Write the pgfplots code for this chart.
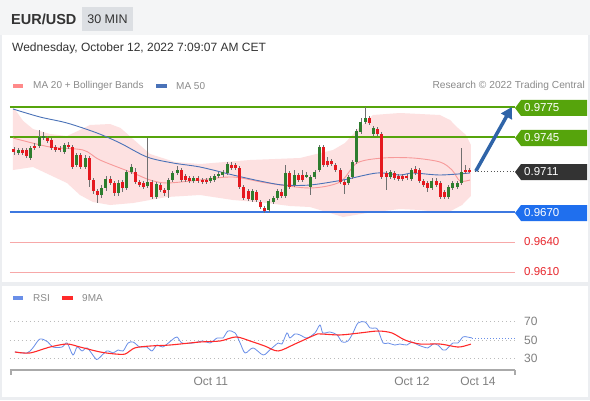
\documentclass[border=0pt]{standalone}
\usepackage{pgfplots}
\pgfplotsset{compat=1.18}
\usepackage{pgfplotstable}
\usepackage{fontspec}
\setmainfont{Liberation Sans}
\usetikzlibrary{arrows.meta}

\definecolor{headerbg}{HTML}{F4F5F6}
\definecolor{badge}{HTML}{DCDFE3}
\definecolor{framegray}{HTML}{ECEEF1}
\definecolor{lvlgreen}{HTML}{56A40C}
\definecolor{lvlblue}{HTML}{3D78E0}
\definecolor{lblblue}{HTML}{1F6FEE}
\definecolor{lbldark}{HTML}{333333}
\definecolor{dotgray}{HTML}{555555}
\definecolor{lvlred}{HTML}{F7A8A8}
\definecolor{txtred}{HTML}{E8272D}
\definecolor{bandpink}{HTML}{FDE1E1}
\definecolor{mared}{HTML}{F79A9A}
\definecolor{legpink}{HTML}{FF8A8A}
\definecolor{mablue}{HTML}{4A72B8}
\definecolor{cgreen}{HTML}{2E7D2E}
\definecolor{cred}{HTML}{E5191F}
\definecolor{wick}{HTML}{707070}
\definecolor{arrowblue}{HTML}{2F64A8}
\definecolor{rsiblue}{HTML}{6A8FE8}
\definecolor{rsired}{HTML}{FF2A2A}
\definecolor{legtxt}{HTML}{8A8A8A}
\definecolor{axisgray}{HTML}{AAAAAA}
\definecolor{gridgray}{HTML}{BBBBBB}

\pgfplotstableread{
i o h l c
0 0.9733 0.9735 0.9727 0.9730
1 0.9729 0.9734 0.9727 0.9732
2 0.9732 0.9734 0.9727 0.9729
3 0.9732 0.9734 0.9724 0.9726
4 0.9724 0.9736 0.9722 0.9734
5 0.9736 0.9739 0.9732 0.9734
6 0.9736 0.9752 0.9734 0.9745
7 0.9744 0.9750 0.9742 0.9746
8 0.9744 0.9746 0.9739 0.9741
9 0.9742 0.9744 0.9732 0.9734
10 0.9735 0.9737 0.9730 0.9732
11 0.9734 0.9736 0.9730 0.9732
12 0.9730 0.9739 0.9728 0.9737
13 0.9737 0.9740 0.9733 0.9735
14 0.9735 0.9737 0.9713 0.9715
15 0.9717 0.9729 0.9715 0.9727
16 0.9727 0.9729 0.9713 0.9715
17 0.9715 0.9727 0.9713 0.9724
18 0.9724 0.9726 0.9695 0.9702
19 0.9702 0.9704 0.9688 0.9691
20 0.9691 0.9693 0.9679 0.9687
21 0.9687 0.9697 0.9684 0.9694
22 0.9694 0.9706 0.9691 0.9703
23 0.9703 0.9706 0.9697 0.9699
24 0.9699 0.9701 0.9686 0.9689
25 0.9689 0.9702 0.9686 0.9699
26 0.9700 0.9702 0.9690 0.9694
27 0.9694 0.9712 0.9692 0.9710
28 0.9710 0.9718 0.9708 0.9715
29 0.9710 0.9714 0.9698 0.9700
30 0.9700 0.9702 0.9695 0.9697
31 0.9699 0.9701 0.9693 0.9695
32 0.9696 0.9744 0.9694 0.9700
33 0.9700 0.9702 0.9683 0.9685
34 0.9685 0.9700 0.9683 0.9698
35 0.9697 0.9699 0.9690 0.9692
36 0.9692 0.9694 0.9686 0.9689
37 0.9692 0.9704 0.9684 0.9702
38 0.9702 0.9711 0.9700 0.9709
39 0.9709 0.9716 0.9707 0.9712
40 0.9712 0.9714 0.9700 0.9702
41 0.9706 0.9708 0.9700 0.9702
42 0.9704 0.9706 0.9699 0.9701
43 0.9701 0.9706 0.9699 0.9704
44 0.9704 0.9706 0.9699 0.9701
45 0.9702 0.9704 0.9698 0.9700
46 0.9702 0.9704 0.9698 0.9700
47 0.9701 0.9706 0.9699 0.9704
48 0.9702 0.9708 0.9700 0.9706
49 0.9706 0.9710 0.9704 0.9708
50 0.9707 0.9712 0.9705 0.9710
51 0.9709 0.9720 0.9707 0.9718
52 0.9717 0.9720 0.9712 0.9714
53 0.9717 0.9719 0.9712 0.9714
54 0.9714 0.9716 0.9693 0.9695
55 0.9695 0.9697 0.9682 0.9684
56 0.9691 0.9693 0.9681 0.9683
57 0.9682 0.9693 0.9680 0.9691
58 0.9690 0.9692 0.9680 0.9682
59 0.9680 0.9682 0.9673 0.9675
60 0.9674 0.9676 0.9669 0.9671
61 0.9672 0.9683 0.9670 0.9681
62 0.9680 0.9686 0.9678 0.9684
63 0.9684 0.9693 0.9682 0.9691
64 0.9690 0.9693 0.9684 0.9686
65 0.9686 0.9717 0.9684 0.9709
66 0.9709 0.9711 0.9693 0.9695
67 0.9697 0.9712 0.9695 0.9707
68 0.9707 0.9709 0.9700 0.9702
69 0.9707 0.9712 0.9700 0.9702
70 0.9706 0.9710 0.9704 0.9707
71 0.9695 0.9707 0.9687 0.9705
72 0.9705 0.9712 0.9703 0.9710
73 0.9712 0.9737 0.9710 0.9735
74 0.9735 0.9737 0.9715 0.9717
75 0.9721 0.9725 0.9715 0.9717
76 0.9721 0.9723 0.9716 0.9718
77 0.9717 0.9719 0.9710 0.9712
78 0.9712 0.9714 0.9698 0.9700
79 0.9700 0.9702 0.9688 0.9697
80 0.9699 0.9707 0.9697 0.9705
81 0.9705 0.9722 0.9703 0.9720
82 0.9720 0.9753 0.9718 0.9751
83 0.9750 0.9764 0.9748 0.9760
84 0.9760 0.9775 0.9758 0.9764
85 0.9764 0.9766 0.9757 0.9759
86 0.9748 0.9756 0.9746 0.9754
87 0.9753 0.9755 0.9746 0.9748
88 0.9748 0.9750 0.9703 0.9705
89 0.9709 0.9711 0.9692 0.9705
90 0.9705 0.9712 0.9703 0.9710
91 0.9709 0.9711 0.9702 0.9704
92 0.9706 0.9708 0.9701 0.9703
93 0.9706 0.9708 0.9701 0.9703
94 0.9706 0.9708 0.9702 0.9704
95 0.9703 0.9714 0.9701 0.9712
96 0.9713 0.9716 0.9707 0.9709
97 0.9712 0.9714 0.9699 0.9701
98 0.9701 0.9703 0.9695 0.9697
99 0.9699 0.9701 0.9690 0.9694
100 0.9694 0.9704 0.9692 0.9701
101 0.9701 0.9704 0.9695 0.9697
102 0.9699 0.9701 0.9683 0.9685
103 0.9690 0.9692 0.9683 0.9685
104 0.9685 0.9697 0.9683 0.9695
105 0.9694 0.9701 0.9692 0.9699
106 0.9695 0.9701 0.9693 0.9699
107 0.9699 0.9734 0.9697 0.9710
108 0.9712 0.9717 0.9708 0.9710
109 0.9712 0.9714 0.9709 0.9711
}\candles

\newcommand{\pricelabel}[3]{% py, color, text
  \fill[#2] (515,400-#1) -- (521,400-#1+8) -- (587,400-#1+8) -- (587,400-#1-8) -- (521,400-#1-8) -- cycle;
  \node[anchor=west, text=white, font=\fontsize{11.5}{13}\selectfont, inner sep=0pt] at (524,400-#1) {#3};
}

\begin{document}
\begin{tikzpicture}
\begin{scope}[x=1pt,y=1pt]
\useasboundingbox (0,0) rectangle (590,400);
\fill[white] (0,0) rectangle (590,400);
\fill[headerbg] (0,365) rectangle (590,400);
\fill[framegray] (0,0) rectangle (2,365);
\fill[framegray] (588,0) rectangle (590,365);
\fill[framegray] (0,0) rectangle (590,3);
\fill[framegray] (0,114) rectangle (590,118);
\node[anchor=west, font=\fontsize{14.5}{16}\selectfont\bfseries, text=lbldark, inner sep=0pt] at (11,381) {EUR/USD};
\fill[badge] (82,369) rectangle (133,393);
\node[font=\fontsize{12.5}{14}\selectfont, text=lbldark, inner sep=0pt] at (107.5,381) {30 MIN};
\node[anchor=west, font=\fontsize{12}{14}\selectfont, text=lbldark, inner sep=0pt] at (12,352) {Wednesday, October 12, 2022 7:09:07 AM CET};
\fill[legpink] (13,312) rectangle (23,316);
\node[anchor=west, font=\fontsize{10}{12}\selectfont, text=legtxt, inner sep=0pt] at (33,314) {MA 20 + Bollinger Bands};
\fill[mablue] (156,312) rectangle (167,316);
\node[anchor=west, font=\fontsize{10}{12}\selectfont, text=legtxt, inner sep=0pt] at (176,314) {MA 50};
\node[anchor=east, font=\fontsize{10.2}{12}\selectfont, text=legtxt, inner sep=0pt] at (585,314) {Research © 2022 Trading Central};
\end{scope}

\begin{axis}[at={(10pt,120pt)}, anchor=south west, scale only axis,
  width=505pt, height=180pt,
  xmin=-0.957, xmax=119.86, ymin=0.9602, ymax=0.9782,
  hide axis, clip=false]
\addplot[fill=bandpink, draw=none, forget plot] coordinates {
(-0.24,0.9775) (1.0,0.9768) (2.2,0.9761) (4.55,0.9753) (8.61,0.9748) (12.68,0.9746) (15.79,0.9752) (18.18,0.9757) (22.97,0.9758) (25.5,0.9754) (28.47,0.9743) (32.54,0.9728) (38.52,0.9720) (44.50,0.9718) (56.46,0.9722) (68.42,0.9724) (76.32,0.9732) (79.19,0.9739) (82.06,0.9752) (85.89,0.9767) (92.34,0.9769) (101.91,0.9767) (104.31,0.9762) (106.22,0.9754) (108.13,0.9747) (109.33,0.9737)
(109.33,0.9686) (107.18,0.9677) (103.59,0.9669) (97.13,0.9672) (92.34,0.9673) (84.45,0.9669) (78.71,0.9665) (75.60,0.9669) (70.81,0.9675) (66.03,0.9676) (60.53,0.9679) (52.39,0.9682) (44.50,0.9687) (36.60,0.9685) (28.47,0.9679) (22.97,0.9677) (18.90,0.9680) (15.79,0.9687) (12.68,0.9699) (8.61,0.9707) (4.55,0.9715) (-0.24,0.9712)
} -- cycle;
\addplot[lvlgreen, line width=2pt] coordinates {(-0.957,0.9775) (119.86,0.9775)};
\addplot[lvlgreen, line width=2pt] coordinates {(-0.957,0.9745) (119.86,0.9745)};
\addplot[lvlblue, line width=1.5pt] coordinates {(-0.957,0.9670) (119.86,0.9670)};
\addplot[lvlred, line width=1pt] coordinates {(-0.957,0.9640) (119.86,0.9640)};
\addplot[lvlred, line width=1pt] coordinates {(-0.957,0.9610) (119.86,0.9610)};
\addplot[mared, line width=0.9pt, smooth] coordinates {
(-0.24,0.9744) (8.61,0.9735) (16.51,0.9732) (20.57,0.9722) (28.47,0.9709) (32.54,0.9702) (36.60,0.9699) (44.50,0.9702) (52.39,0.9705) (60.53,0.9699) (70.81,0.9694) (77.99,0.9700) (82.06,0.9719) (88.28,0.9724) (95.45,0.9724) (101.91,0.9720) (104.78,0.9712) (106.70,0.9701) (109.09,0.9702)};
\addplot[mablue, line width=0.9pt, smooth] coordinates {
(-0.24,0.9773) (6.22,0.9765) (12.68,0.9759) (19.86,0.9749) (25.36,0.9739) (31.82,0.9725) (38.04,0.9719) (44.50,0.9715) (52.39,0.9707) (58.85,0.9701) (64.35,0.9697) (70.81,0.9697) (78.71,0.9702) (86.84,0.9709) (92.34,0.9707) (95.45,0.9709) (101.91,0.9707) (109.09,0.9709)};
\addplot[draw=none, mark=none, forget plot, error bars/.cd, y dir=both, y explicit, error mark=none,
  error bar style={draw=wick, line width=0.8pt}]
  table[x=i, y expr={(\thisrow{h}+\thisrow{l})/2}, y error expr={(\thisrow{h}-\thisrow{l})/2}] \candles;
\addplot[draw=none, mark=none, forget plot, restrict expr to domain={\thisrow{c}-\thisrow{o}}{0:1},
  error bars/.cd, y dir=both, y explicit, error mark=none,
  error bar style={draw=cgreen, line width=3pt}]
  table[x=i, y expr={(\thisrow{o}+\thisrow{c})/2}, y error expr={abs(\thisrow{c}-\thisrow{o})/2}] \candles;
\addplot[draw=none, mark=none, forget plot, restrict expr to domain={\thisrow{c}-\thisrow{o}}{-1:-0.00001},
  error bars/.cd, y dir=both, y explicit, error mark=none,
  error bar style={draw=cred, line width=3pt}]
  table[x=i, y expr={(\thisrow{o}+\thisrow{c})/2}, y error expr={abs(\thisrow{c}-\thisrow{o})/2}] \candles;
\draw[dotgray, line width=1pt, dash pattern=on 1pt off 2.2pt] (axis cs:110.2,0.9711) -- (axis cs:119.86,0.9711);
\draw[arrowblue, line width=3.5pt, -{Triangle[length=11pt,width=12pt]}] (axis cs:110.5,0.9711) -- (axis cs:119.1,0.9775);
\end{axis}

\begin{axis}[at={(10pt,30pt)}, anchor=south west, scale only axis,
  width=505pt, height=70pt,
  xmin=-0.957, xmax=119.86, ymin=17.2, ymax=93.7,
  axis x line*=bottom, hide y axis,
  x axis line style={-, color=axisgray, line width=2pt},
  xtick={47.1,95.2,111.0}, xticklabels={Oct 11,Oct 12,Oct 14},
  major tick length=0pt,
  xticklabel style={font=\fontsize{12}{14}\selectfont, text=gray, yshift=-4pt},
  clip=false]
\addplot[gridgray, line width=0.8pt, dash pattern=on 1pt off 3pt] coordinates {(-0.957,70) (119.86,70)};
\addplot[gridgray, line width=0.8pt, dash pattern=on 1pt off 3pt] coordinates {(-0.957,50) (119.86,50)};
\addplot[gridgray, line width=0.8pt, dash pattern=on 1pt off 3pt] coordinates {(-0.957,30) (119.86,30)};
\addplot[rsiblue, line width=0.8pt, dash pattern=on 1pt off 2pt] coordinates {(109.6,52.2) (119.86,52.2)};
\addplot[rsiblue, line width=0.8pt, smooth] coordinates {
(0.24,36.9) (3.1,35.8) (4.5,41.3) (6.2,51.1) (8.1,47.8) (9.3,42.3) (11.5,42.3) (12.7,46.7) (14.1,33.6) (15.1,42.3) (16.3,38.0) (17.5,41.3) (19.4,30.3) (20.1,29.2) (22.2,38.0) (23.7,35.8) (24.9,39.1) (26.1,38.0) (27.3,46.7) (28.5,47.8) (30.1,42.3) (31.8,42.3) (33.0,38.0) (34.2,44.5) (35.6,42.3) (37.8,50.0) (39.0,53.3) (40.2,46.7) (42.8,46.7) (45.2,48.9) (46.9,46.7) (48.6,52.2) (50.0,52.2) (51.2,59.8) (52.9,57.7) (54.1,46.7) (55.3,35.8) (57.2,41.3) (59.6,33.6) (61.2,39.1) (63.2,46.7) (64.1,45.6) (65.3,57.7) (66.0,52.2) (67.2,56.6) (68.4,55.5) (70.1,52.2) (72.0,57.7) (73.2,66.4) (73.9,57.7) (75.6,58.7) (77.3,55.5) (78.5,47.8) (79.9,48.9) (81.1,57.7) (82.3,68.6) (84.0,69.7) (85.2,63.1) (86.4,63.1) (87.1,60.9) (88.3,46.7) (89.5,46.7) (91.1,44.5) (92.3,45.6) (94.0,44.5) (95.2,47.8) (96.7,44.5) (99.0,41.3) (100.2,45.6) (101.4,44.5) (102.6,39.1) (103.3,39.1) (105.0,46.7) (106.2,46.7) (107.4,53.3) (108.4,53.3) (109.6,52.2)};
\addplot[rsired, line width=1.1pt, smooth] coordinates {
(0.2,36.9) (3.8,35.8) (8.6,42.3) (12.7,45.6) (15.8,42.3) (20.6,36.9) (24.2,34.7) (26.6,34.7) (28.9,41.3) (32.5,43.4) (37.3,44.5) (44.5,47.8) (49.3,48.9) (53.1,53.3) (56.5,48.9) (60.0,43.4) (63.2,38.0) (67.2,45.6) (72.0,55.5) (73.2,56.6) (78.0,55.5) (82.8,57.7) (87.1,59.8) (90.4,57.7) (93.5,50.0) (97.1,45.6) (101.9,45.6) (106.2,42.3) (108.6,44.5) (109.3,45.6)};
\end{axis}

\begin{scope}[x=1pt,y=1pt]
\pricelabel{108}{lvlgreen}{0.9775}
\pricelabel{138}{lvlgreen}{0.9745}
\pricelabel{172}{lbldark}{0.9711}
\pricelabel{213}{lblblue}{0.9670}
\node[anchor=west, text=txtred, font=\fontsize{11.5}{13}\selectfont, inner sep=0pt] at (524,158) {0.9640};
\node[anchor=west, text=txtred, font=\fontsize{11.5}{13}\selectfont, inner sep=0pt] at (524,128) {0.9610};
\fill[rsiblue] (13,100) rectangle (23,104);
\node[anchor=west, font=\fontsize{10}{12}\selectfont, text=legtxt, inner sep=0pt] at (33,102) {RSI};
\fill[rsired] (62,100) rectangle (73,104);
\node[anchor=west, font=\fontsize{10}{12}\selectfont, text=legtxt, inner sep=0pt] at (82,102) {9MA};
\draw[axisgray, line width=1.5pt] (11,30) -- (11,25);
\draw[axisgray, line width=1.5pt] (515,30) -- (515,25);
\node[anchor=west, text=gray, font=\fontsize{12}{14}\selectfont, inner sep=0pt] at (524,79) {70};
\node[anchor=west, text=gray, font=\fontsize{12}{14}\selectfont, inner sep=0pt] at (524,60) {50};
\node[anchor=west, text=gray, font=\fontsize{12}{14}\selectfont, inner sep=0pt] at (524,42) {30};
\end{scope}
\end{tikzpicture}
\end{document}
